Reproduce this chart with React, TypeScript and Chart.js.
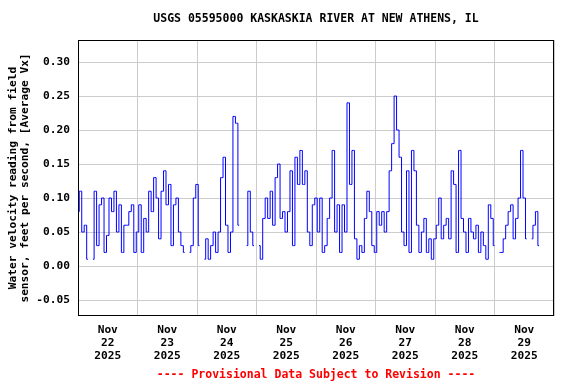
import React, { useEffect, useRef } from "react";
import { Chart, registerables } from "chart.js";

Chart.register(...registerables);

const TITLE = "USGS 05595000 KASKASKIA RIVER AT NEW ATHENS, IL";
const FOOTER = "---- Provisional Data Subject to Revision ----";
const Y_TITLE = ["Water velocity reading from field", "sensor, feet per second, [Average Vx]"];
const MONTH = "Nov";
const YEAR = "2025";
const DAYS = ["22", "23", "24", "25", "26", "27", "28", "29"];
const Y_TICKS = [-0.05, 0, 0.05, 0.1, 0.15, 0.2, 0.25, 0.3];

// hourly readings (ft/s), null = no data
const nov22 = [0.08, 0.11, 0.05, 0.06, 0.01, null, 0.01, 0.11, 0.03, 0.09, 0.10, 0.02, 0.045, 0.10, 0.08, 0.11, 0.05, 0.09, 0.02, 0.06, 0.06, 0.08, 0.09, 0.02];
const nov23 = [0.05, 0.09, 0.02, 0.07, 0.05, 0.11, 0.08, 0.13, 0.10, 0.04, 0.11, 0.14, 0.09, 0.12, 0.03, 0.09, 0.10, 0.05, 0.03, 0.02, null, 0.02, 0.03, 0.10];
const nov24 = [0.12, 0.03, null, 0.01, 0.04, 0.01, 0.03, 0.05, 0.02, 0.05, 0.13, 0.16, 0.06, 0.02, 0.05, 0.22, 0.21, 0.06, null, null, 0.03, 0.11, 0.05, 0.03];
const nov25 = [null, 0.03, 0.01, 0.07, 0.10, 0.07, 0.11, 0.06, 0.13, 0.15, 0.07, 0.08, 0.05, 0.08, 0.14, 0.03, 0.16, 0.12, 0.17, 0.12, 0.14, 0.05, 0.03, 0.09];
const nov26 = [0.10, 0.05, 0.10, 0.02, 0.03, 0.07, 0.10, 0.17, 0.05, 0.09, 0.02, 0.09, 0.05, 0.24, 0.12, 0.17, 0.04, 0.01, 0.03, 0.02, 0.07, 0.11, 0.08, 0.03];
const nov27 = [0.02, 0.08, 0.06, 0.08, 0.05, 0.08, 0.14, 0.18, 0.25, 0.20, 0.16, 0.05, 0.03, 0.14, 0.02, 0.17, 0.14, 0.06, 0.02, 0.05, 0.07, 0.02, 0.04, 0.01];
const nov28 = [0.04, 0.06, 0.10, 0.04, 0.06, 0.07, 0.04, 0.14, 0.12, 0.02, 0.17, 0.07, 0.05, 0.02, 0.07, 0.05, 0.04, 0.06, 0.02, 0.05, 0.03, 0.01, 0.09, 0.07];
const nov29 = [0.03, null, 0.02, 0.02, 0.04, 0.06, 0.08, 0.09, 0.04, 0.07, 0.10, 0.17, 0.10, 0.04, null, 0.04, 0.06, 0.08, 0.03, null, null, null, null, null];

const velocity = [...nov22, ...nov23, ...nov24, ...nov25, ...nov26, ...nov27, ...nov28, ...nov29];
const X_TICKS = Array.from({ length: DAYS.length * 2 + 1 }, (_, i) => i * 12);

const FONT = '"DejaVu Sans Mono", "Liberation Mono", monospace';

const framePlugin = {
  id: "frameAndText",
  afterDraw(chart: any) {
    const { ctx, chartArea: a } = chart;
    ctx.save();
    ctx.strokeStyle = "#000";
    ctx.lineWidth = 1;
    ctx.strokeRect(a.left + 0.5, a.top + 0.5, a.right - a.left - 1, a.bottom - a.top - 1);
    const cx = (a.left + a.right) / 2;
    ctx.textAlign = "center";
    ctx.textBaseline = "middle";
    ctx.font = `bold 11.5px ${FONT}`;
    ctx.fillStyle = "#000";
    ctx.fillText(TITLE, cx, 19);
    ctx.fillStyle = "#ff0000";
    ctx.fillText(FOOTER, cx, 375);
    ctx.restore();
  },
};

export default function App() {
  const ref = useRef<HTMLCanvasElement | null>(null);
  useEffect(() => {
    if (!ref.current) return;
    const chart = new Chart(ref.current, {
      type: "line",
      data: {
        datasets: [
          {
            data: velocity.map((v, i) => ({ x: i, y: v })),
            borderColor: "#0000ff",
            borderWidth: 1,
            pointRadius: 0,
            stepped: "middle",
            spanGaps: false,
          },
        ],
      },
      options: {
        animation: false,
        responsive: false,
        maintainAspectRatio: false,
        layout: { padding: { top: 40, right: 22, bottom: 0, left: 0 } },
        plugins: { legend: { display: false }, tooltip: { enabled: false }, title: { display: false } },
        scales: {
          x: {
            type: "linear",
            min: 0,
            max: DAYS.length * 24,
            afterBuildTicks: (s: any) => {
              s.ticks = X_TICKS.map((v) => ({ value: v }));
            },
            afterFit: (s: any) => {
              s.height = 68;
            },
            border: { display: false },
            grid: {
              drawTicks: false,
              color: (c: any) => (c.tick && c.tick.value % 24 === 0 ? "#cccccc" : "rgba(0,0,0,0)"),
            },
            ticks: {
              autoSkip: false,
              maxRotation: 0,
              padding: 7,
              color: "#000",
              font: { family: FONT, size: 11.2, weight: "bold", lineHeight: 1.18 },
              callback: (v: any) => (v % 24 === 12 ? [MONTH, DAYS[(v - 12) / 24], YEAR] : ""),
            },
          },
          y: {
            min: -0.0735,
            max: 0.3324,
            afterBuildTicks: (s: any) => {
              s.ticks = Y_TICKS.map((v) => ({ value: v }));
            },
            afterFit: (s: any) => {
              s.width = 78;
            },
            border: { display: false },
            grid: { drawTicks: false, color: "#cccccc" },
            ticks: {
              padding: 8,
              color: "#000",
              font: { family: FONT, size: 11.2, weight: "bold" },
              callback: (v: any) => Number(v).toFixed(2),
            },
            title: {
              display: true,
              text: Y_TITLE,
              color: "#000",
              padding: { top: 7, bottom: 0 },
              font: { family: FONT, size: 11.2, weight: "bold", lineHeight: 1.08 },
            },
          },
        },
      },
      plugins: [framePlugin],
    } as any);
    return () => chart.destroy();
  }, []);
  return (
    <div style={{ position: "fixed", left: 0, top: 0, width: 576, height: 384, background: "#fff" }}>
      <canvas ref={ref} width={576} height={384} />
    </div>
  );
}
